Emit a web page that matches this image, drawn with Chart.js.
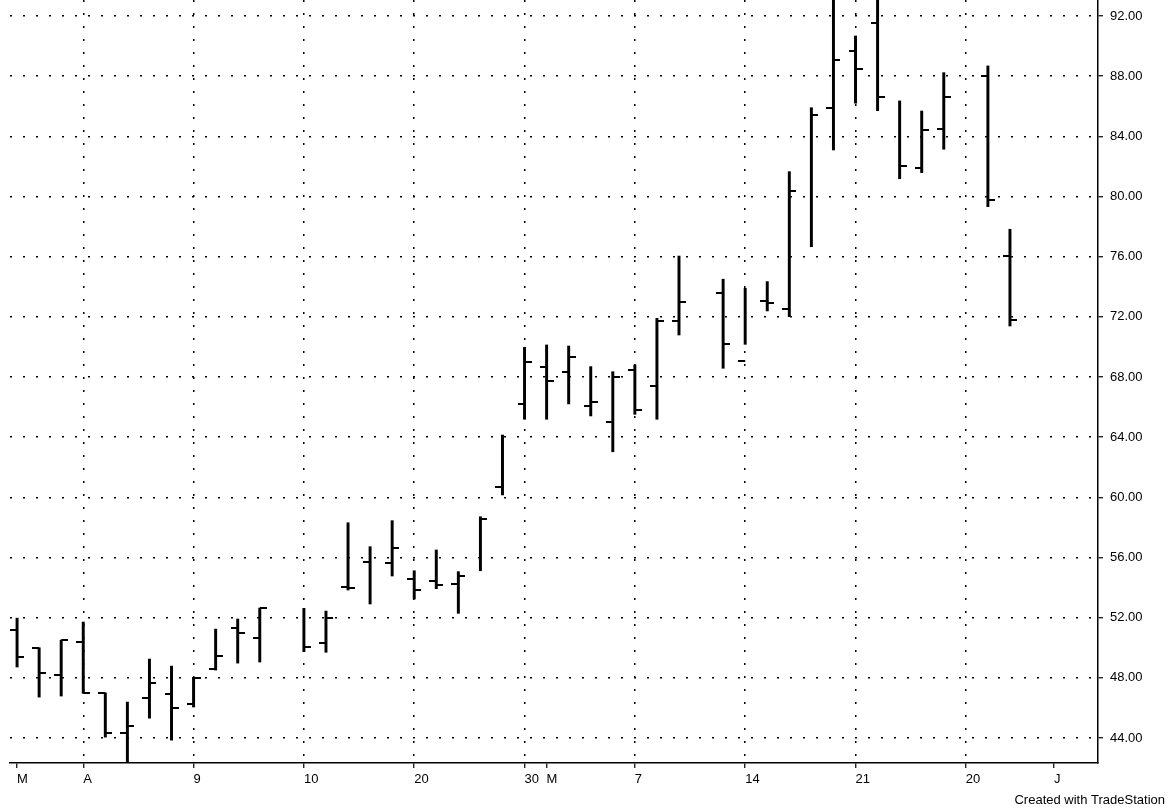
<!DOCTYPE html>
<html>
<head>
<meta charset="utf-8">
<style>
  html, body { margin: 0; padding: 0; background: #fff; }
  canvas { display: block; }
</style>
<script src="https://cdn.jsdelivr.net/npm/chart.js@4.4.1/dist/chart.umd.min.js"></script>
</head>
<body>
<canvas id="chart" width="1172" height="812"></canvas>
<script>
// bar slot index (gaps at 12, 31, 43 are days with no bar)
const barIdx = [0, 1, 2, 3, 4, 5, 6, 7, 8, 9, 10, 11,
  13, 14, 15, 16, 17, 18, 19, 20, 21, 22, 23, 24, 25, 26, 27, 28, 29, 30,
  32, 33, 34, 35, 36, 37, 38, 39, 40, 41, 42,
  44, 45];
const opens = [51.18, 50.0, 48.18, 50.38, 47.0, 44.33, 46.65, 46.92, 46.26, 48.58, 51.31, 50.64,
  null, 50.34, 54.06, 55.68, 55.61, 54.57, 54.44, 54.24, null, 60.71, 66.19, 68.64, 68.31, 66.07, 64.99, 68.47, 67.40, 71.72,
  73.61, 69.06, 73.07, 72.50, null, 85.86, 89.69, 91.56, null, 81.87, 84.49,
  88.01, 76.04];
const highs = [51.97, 50.0, 50.51, 51.71, 47.0, 46.39, 49.25, 48.78, 47.98, 51.24, 51.91, 52.64,
  52.62, 52.44, 58.31, 56.72, 58.45, 55.12, 56.50, 55.06, 58.71, 64.14, 69.97, 70.13, 70.06, 68.69, 68.35, 68.80, 71.90, 76.04,
  74.50, 73.90, 74.34, 81.65, 85.90, 94.0, 90.67, 94.0, 86.35, 85.68, 88.23,
  88.68, 77.82];
const lows = [48.72, 46.72, 46.79, 46.97, 44.06, 42.3, 45.32, 43.86, 46.06, 48.52, 48.98, 49.05,
  49.74, 49.70, 53.84, 52.91, 54.77, 53.24, 53.93, 52.29, 55.12, 60.16, 65.19, 65.19, 66.21, 65.41, 63.03, 65.52, 65.19, 70.79,
  68.58, 70.17, 72.39, 72.01, 76.66, 83.09, 86.20, 85.70, 81.18, 81.58, 83.14,
  79.32, 71.39];
const closes = [49.38, 48.32, 50.51, 46.97, 44.33, 44.79, 47.65, 45.99, 47.98, 49.45, 50.98, 52.64,
  50.07, 52.00, 53.95, null, 56.63, 53.82, 54.15, 54.77, 58.56, null, 68.98, 67.75, 69.31, 66.34, 68.02, 65.81, 71.72, 72.99,
  70.17, null, 72.94, 80.39, 85.42, 89.07, 88.48, 86.59, 82.03, 84.42, 86.59,
  79.77, 71.79];

const xTickIdx = [0, 3, 8, 13, 18, 23, 24, 28, 33, 38, 43, 47];
const xTickLabels = ['M', 'A', '9', '10', '20', '30', 'M', '7', '14', '21', '20', 'J'];
const xGridIdx = [3, 8, 13, 18, 23, 28, 33, 38, 43];
const yTicks = [44, 48, 52, 56, 60, 64, 68, 72, 76, 80, 84, 88, 92];

Chart.defaults.font.family = '"Liberation Sans", Arial, Helvetica, sans-serif';
Chart.defaults.font.size = 13;
Chart.defaults.color = '#000';

// open tick sits left of the bar, close tick right
function makeTick(side) {
  const c = document.createElement('canvas');
  c.width = 14;
  c.height = 2;
  const g = c.getContext('2d');
  g.fillStyle = '#000';
  g.fillRect(side === 'left' ? 0 : 7, 0, 7, 2);
  return c;
}

const rangeData = barIdx.map((x, i) => ({ x: x, y: [lows[i], highs[i]] }));
const openData = barIdx.map((x, i) => ({ x: x, y: opens[i] })).filter(p => p.y !== null);
const closeData = barIdx.map((x, i) => ({ x: x, y: closes[i] })).filter(p => p.y !== null);

// no extra label padding around the plot, the layout is fixed
function noPadding(scale) {
  scale.paddingTop = 0;
  scale.paddingBottom = 0;
  scale.paddingLeft = 0;
  scale.paddingRight = 0;
}

const creditText = {
  id: 'creditText',
  afterDraw(chart) {
    const ctx = chart.ctx;
    ctx.save();
    ctx.font = '13px "Liberation Sans", Arial, sans-serif';
    ctx.fillStyle = '#000';
    ctx.textAlign = 'right';
    ctx.textBaseline = 'middle';
    ctx.fillText('Created with TradeStation', 1165, 800);
    ctx.restore();
  }
};

new Chart(document.getElementById('chart'), {
  type: 'bar',
  data: {
    datasets: [{
      label: 'range',
      data: rangeData,
      backgroundColor: '#000',
      borderWidth: 0,
      barThickness: 2.3
    }, {
      type: 'scatter',
      label: 'open',
      data: openData,
      pointStyle: makeTick('left'),
      pointRadius: 4,
      showLine: false
    }, {
      type: 'scatter',
      label: 'close',
      data: closeData,
      pointStyle: makeTick('right'),
      pointRadius: 4,
      showLine: false
    }]
  },
  options: {
    responsive: false,
    animation: false,
    layout: { autoPadding: false, padding: { left: 10, top: 0, right: 0, bottom: 21 } },
    plugins: {
      legend: { display: false },
      tooltip: { enabled: false }
    },
    scales: {
      x: {
        type: 'linear',
        offset: false,
        min: -0.32,
        max: 48.99,
        afterBuildTicks: scale => {
          scale.ticks = xTickIdx.map(v => ({ value: v }));
        },
        afterFit: scale => {
          scale.height = 28;
          noPadding(scale);
        },
        ticks: {
          autoSkip: false,
          maxRotation: 0,
          align: 'start',
          padding: 4,
          callback: (value, index) => xTickLabels[index]
        },
        grid: {
          offset: false,
          color: ctx => (ctx.tick && xGridIdx.includes(ctx.tick.value)) ? '#000' : 'rgba(0,0,0,0)',
          lineWidth: 1.5,
          tickColor: '#000',
          tickWidth: 1.2,
          tickLength: 5
        },
        border: { display: true, color: '#000', width: 1.5, dash: [2, 11] }
      },
      y: {
        position: 'right',
        min: 42.34,
        max: 93.06,
        afterBuildTicks: scale => {
          scale.ticks = yTicks.map(v => ({ value: v }));
        },
        afterFit: scale => {
          scale.width = 74;
          noPadding(scale);
        },
        ticks: {
          padding: 7,
          callback: value => value.toFixed(2)
        },
        grid: {
          color: '#000',
          lineWidth: 1.5,
          tickColor: '#000',
          tickWidth: 1.2,
          tickLength: 5
        },
        border: { display: true, color: '#000', width: 1.5, dash: [2, 11] }
      }
    }
  },
  plugins: [creditText]
});
</script>
</body>
</html>
